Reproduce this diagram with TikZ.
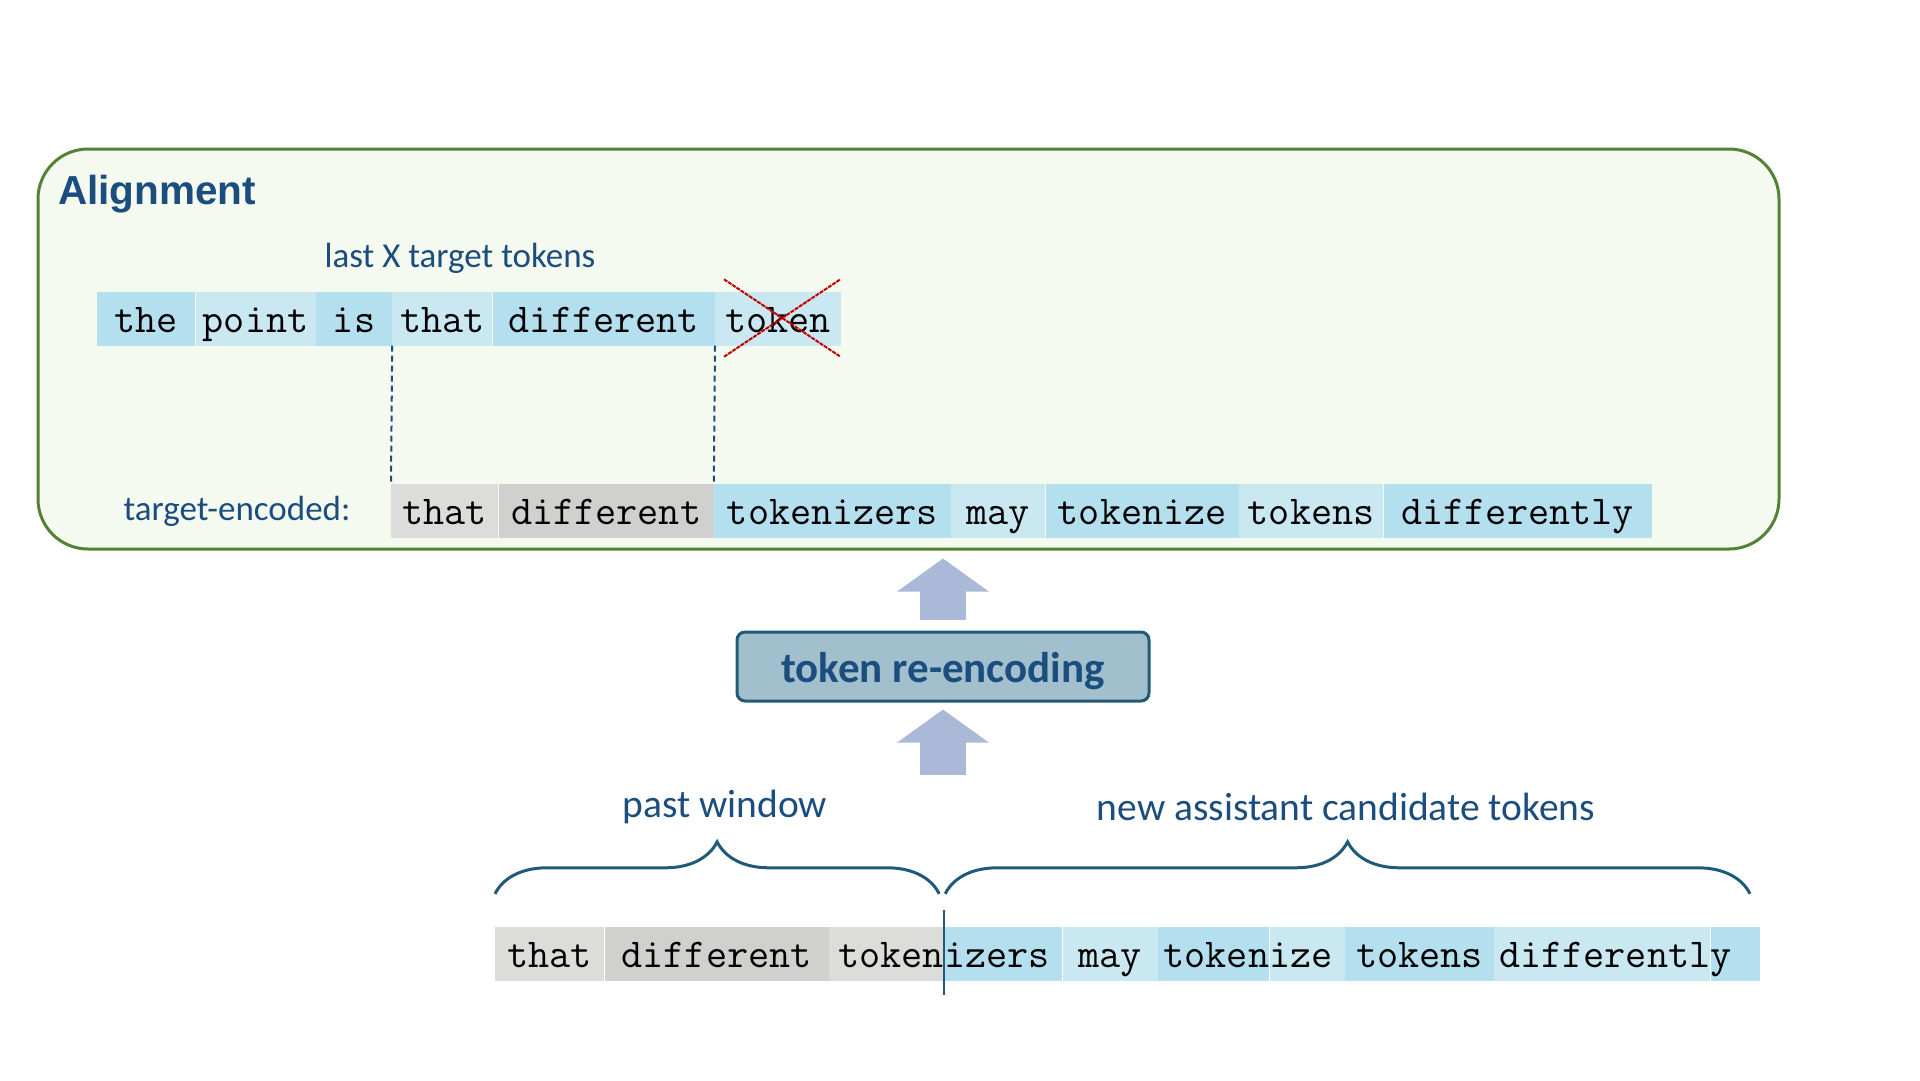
\documentclass[tikz,border=0pt]{standalone}
\usepackage{fontspec}
\setmainfont{Carlito}
\newfontfamily\headfont{Liberation Sans}
\usetikzlibrary{positioning,decorations.pathreplacing,arrows.meta}

\definecolor{navy}{HTML}{1B4D7E}
\definecolor{framegreen}{HTML}{548235}
\definecolor{framefill}{HTML}{F5FAF0}
\definecolor{tokdark}{HTML}{B3DFEF}
\definecolor{toklight}{HTML}{C9E8F2}
\definecolor{graylight}{HTML}{DCDCDB}
\definecolor{graydark}{HTML}{D0D0CE}
\definecolor{boxfill}{HTML}{A1BFCC}
\definecolor{boxline}{HTML}{215A76}
\definecolor{arrowfill}{HTML}{AAB9D8}
\definecolor{bracecol}{HTML}{1F5A7A}
\definecolor{crossred}{HTML}{C00000}

\tikzset{
	tok/.style={inner sep=0pt, minimum height=54pt, text height=31pt, text depth=4pt, font=\fontsize{41}{41}\selectfont\ttfamily},
	tokA/.style={tok, fill=tokdark},
	tokB/.style={tok, fill=toklight},
	tokG/.style={tok, fill=graylight},
	tokH/.style={tok, fill=graydark},
	lbl/.style={inner sep=0pt, text=navy, font=\fontsize{35}{35}\selectfont},
	biglbl/.style={lbl, font=\fontsize{39.5}{40}\selectfont},
	brc/.style={draw=bracecol, line width=3pt, decorate, decoration={brace, amplitude=52pt}},
	fatarrow/.style={draw=arrowfill, line width=46pt, -{Triangle[width=90pt, length=33pt]}},
	matchline/.style={draw=navy, line width=2pt, dash pattern=on 6pt off 4pt},
	crossline/.style={draw=crossred, line width=2pt, dash pattern=on 4pt off 1pt},
}

\begin{document}
\begin{tikzpicture}[x=1pt, y=-1pt]
	\useasboundingbox (0,0) rectangle (1920,1080);

	\node[draw=framegreen, fill=framefill, line width=3pt, rounded corners=50pt, minimum width=1741pt, minimum height=400pt] (alignment) at (908.5,349) {};
	\node[anchor=west, inner sep=0pt, text=navy, font=\fontsize{40.5}{41}\selectfont\headfont\bfseries] (title) at (58,194) {Alignment};
	\node[lbl] (lastx) at (460,258) {last X target tokens};

	% target history
	\node[tokA, anchor=west, minimum width=98pt] (t1) at (97,318.5) {the};
	\node[tokB, minimum width=120pt, right=0pt of t1] (t2) {point};
	\node[tokA, minimum width=76pt, right=0pt of t2] (t3) {is};
	\node[tokB, minimum width=100pt, right=0pt of t3] (t4) {that};
	\node[tokA, minimum width=222pt, right=0pt of t4] (t5) {different};
	\node[tokB, minimum width=126pt, right=0pt of t5] (t6) {token};

	% target-encoded
	\node[lbl] (encoded) at (237,511) {target-encoded:};
	\node[tokG, anchor=west, minimum width=107pt] (e1) at (391,511) {that};
	\node[tokH, minimum width=215pt, right=0pt of e1] (e2) {different};
	\node[tokA, minimum width=237pt, right=0pt of e2] (e3) {tokenizers};
	\node[tokB, minimum width=94pt, right=0pt of e3] (e4) {may};
	\node[tokA, minimum width=193pt, right=0pt of e4] (e5) {tokenize};
	\node[tokB, minimum width=144pt, right=0pt of e5] (e6) {tokens};
	\node[tokA, minimum width=268pt, right=0pt of e6] (e7) {differently};

	\draw[matchline] (t4.south west) -- (e1.north west);
	\draw[matchline] (t6.south west) -- (e3.north west);
	\draw[crossline] ([xshift=9pt,yshift=12pt]t6.north west) -- ([xshift=-1pt,yshift=-11pt]t6.south east);
	\draw[crossline] ([xshift=9pt,yshift=-11pt]t6.south west) -- ([xshift=-1pt,yshift=12pt]t6.north east);

	\node[draw=boxline, fill=boxfill, line width=3pt, rounded corners=8pt, minimum width=412pt, minimum height=69pt, text height=35pt, text depth=4pt, text=navy, font=\fontsize{43}{43}\selectfont\bfseries] (reenc) at (943,666.5) {token re-encoding};

	\draw[fatarrow] ([yshift=11pt]reenc.north) -- ([yshift=-8pt]alignment.south -| reenc.north);
	\draw[fatarrow] ([yshift=-72pt]reenc.south) -- ([yshift=-7pt]reenc.south);

	% assistant tokens
	\node[tokG, anchor=west, minimum width=109pt] (b1) at (495,954) {that};
	\node[tokH, minimum width=224pt, right=0pt of b1] (b2) {different};
	\node[tokG, text width=115pt, align=right, right=0pt of b2] (b3) {token};
	\node[tokA, text width=118pt, align=left, right=0pt of b3] (b4) {izers};
	\node[tokB, minimum width=95pt, right=0pt of b4] (b5) {may};
	\node[tokA, text width=111pt, align=right, right=0pt of b5] (b6) {token};
	\node[tokB, text width=75pt, align=left, right=0pt of b6] (b7) {ize};
	\node[tokA, minimum width=149pt, right=0pt of b7] (b8) {tokens};
	\node[tokB, text width=216pt, align=right, right=0pt of b8] (b9) {differentl};
	\node[tokA, text width=49pt, align=left, right=0pt of b9] (b10) {y};

	\draw[draw=bracecol, line width=2.5pt] ([yshift=17pt]b3.north east) -- ([yshift=-14pt]b3.south east);

	\draw[brc] ([yshift=33pt]b1.north west) -- ([xshift=-5pt,yshift=33pt]b3.north east);
	\draw[brc] ([xshift=1pt,yshift=33pt]b4.north west) -- ([xshift=-10pt,yshift=33pt]b10.north east);
	\node[biglbl] (past) at (725,807) {past window};
	\node[biglbl] (new) at (1346,807) {new assistant candidate tokens};
\end{tikzpicture}
\end{document}
